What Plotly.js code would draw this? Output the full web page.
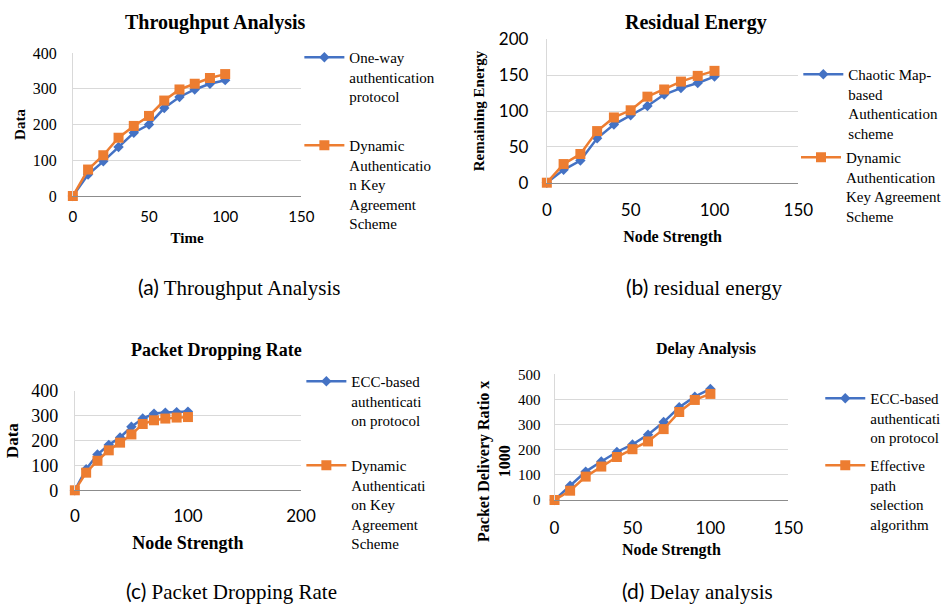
<!DOCTYPE html>
<html>
<head>
<meta charset="utf-8">
<script src="https://cdn.plot.ly/plotly-3.0.1.min.js"></script>
<style>html,body{margin:0;padding:0;background:#fff;}#chart{width:947px;height:605px;}</style>
</head>
<body>
<div id="chart"></div>
<script>
// ---- data ----
const xNodes = [0, 10, 20, 30, 40, 50, 60, 70, 80, 90, 100];

// (a) Throughput Analysis
const thrOneWay = [0, 60, 97, 137, 177, 200, 246, 277, 298, 314, 324];
const thrDynamic = [0, 74, 114, 163, 196, 224, 267, 298, 314, 330, 341];

// (b) Residual Energy
const resChaotic = [0, 18, 31, 62, 81, 94, 107, 123, 132, 139, 148];
const resDynamic = [0, 26, 40, 72, 91, 101, 120, 130, 141, 149, 156];

// (c) Packet Dropping Rate
const pdrEcc = [0, 85, 144, 183, 213, 256, 289, 309, 313, 315, 317];
const pdrDynamic = [0, 71, 119, 161, 192, 225, 267, 282, 289, 293, 295];

// (d) Delay Analysis
const delEcc = [0, 57, 113, 153, 191, 221, 260, 310, 369, 411, 442];
const delEffective = [0, 37, 93, 133, 171, 202, 233, 282, 350, 398, 422];

const names = {
  a1: 'One-way<br>authentication<br>protocol',
  a2: 'Dynamic<br>Authenticatio<br>n Key<br>Agreement<br>Scheme',
  b1: 'Chaotic Map-<br>based<br>Authentication<br>scheme',
  b2: 'Dynamic<br>Authentication<br>Key Agreement<br>Scheme',
  c1: 'ECC-based<br>authenticati<br>on protocol',
  c2: 'Dynamic<br>Authenticati<br>on Key<br>Agreement<br>Scheme',
  d1: 'ECC-based<br>authenticati<br>on protocol',
  d2: 'Effective<br>path<br>selection<br>algorithm'
};

// ---- styling ----
const BLUE = '#4472C4', ORANGE = '#ED7D31';
const SERIF = 'Liberation Serif, Times New Roman, serif';
const SANS = 'Lato, Carlito, Calibri, sans-serif';
const W = 947, H = 605;
const px = v => v / W;
const py = v => 1 - v / H;

function blueTrace(y, name, xa, ya, lg) {
  return {x: xNodes, y: y, name: name, xaxis: xa, yaxis: ya, legend: lg,
    type: 'scatter', mode: 'lines+markers', cliponaxis: false,
    line: {color: BLUE, width: 2.5},
    marker: {symbol: 'diamond', size: 8, color: BLUE}};
}
function orangeTrace(y, name, xa, ya, lg) {
  return {x: xNodes, y: y, name: name, xaxis: xa, yaxis: ya, legend: lg,
    type: 'scatter', mode: 'lines+markers', cliponaxis: false,
    line: {color: ORANGE, width: 2.5},
    marker: {symbol: 'square', size: 10, color: ORANGE}};
}

const data = [
  blueTrace(thrOneWay, names.a1, 'x', 'y', 'legend'),
  orangeTrace(thrDynamic, names.a2, 'x', 'y', 'legend2'),
  blueTrace(resChaotic, names.b1, 'x2', 'y2', 'legend3'),
  orangeTrace(resDynamic, names.b2, 'x2', 'y2', 'legend4'),
  blueTrace(pdrEcc, names.c1, 'x3', 'y3', 'legend5'),
  orangeTrace(pdrDynamic, names.c2, 'x3', 'y3', 'legend6'),
  blueTrace(delEcc, names.d1, 'x4', 'y4', 'legend7'),
  orangeTrace(delEffective, names.d2, 'x4', 'y4', 'legend8')
];

function xAxis(dom, range, dtick, fontSize, title, titleSize, standoff, anchor, tstand) {
  return {domain: dom, range: range, dtick: dtick, tick0: 0, anchor: anchor,
    showgrid: false, zeroline: false, showline: true, linecolor: '#8c8c8c', linewidth: 1,
    ticks: '', ticklabelstandoff: tstand,
    tickfont: {family: SANS, size: fontSize, color: '#000'},
    title: {text: title, font: {family: SERIF, size: titleSize, color: '#000', weight: 'bold'}, standoff: standoff},
    fixedrange: true};
}
function yAxis(dom, range, dtick, fontFamily, fontSize, title, titleSize, standoff, anchor, tstand) {
  return {domain: dom, range: range, dtick: dtick, tick0: 0, anchor: anchor,
    showgrid: true, gridcolor: '#d9d9d9', gridwidth: 1,
    zeroline: false, showline: true, linecolor: '#d9d9d9', linewidth: 1,
    ticks: '', ticklabelstandoff: tstand,
    tickfont: {family: fontFamily, size: fontSize, color: '#000'},
    title: {text: title, font: {family: SERIF, size: titleSize, color: '#000', weight: 'bold'}, standoff: standoff},
    fixedrange: true};
}

function legendAt(x, y, size) {
  return {x: px(x), y: py(y), xanchor: 'left', yanchor: 'top', valign: 'top',
    bgcolor: 'rgba(0,0,0,0)', borderwidth: 0, itemwidth: 40,
    font: {family: SERIF, size: size, color: '#000'}, itemclick: false, itemdoubleclick: false};
}

function ann(text, x, y, size, bold, family, angle) {
  return {text: text, x: px(x), y: py(y), xref: 'paper', yref: 'paper',
    xanchor: 'center', yanchor: 'middle', showarrow: false, textangle: angle || 0,
    font: {family: family || SERIF, size: size, color: '#000', weight: bold ? 'bold' : 'normal'}};
}

const layout = {
  width: W, height: H,
  margin: {l: 0, r: 0, t: 0, b: 0},
  paper_bgcolor: '#fff', plot_bgcolor: '#fff',
  showlegend: true,
  xaxis: xAxis([px(73), px(302)], [0, 150], 50, 15, 'Time', 15, 8, 'y', 7),
  yaxis: yAxis([py(196), py(53)], [0, 400], 100, SERIF, 16, 'Data', 15, 3, 'x', 12),
  xaxis2: xAxis([px(548), px(800)], [0, 150], 50, 17, 'Node Strength', 16, 11, 'y2', 12),
  yaxis2: yAxis([py(182.7), py(39.3)], [0, 200], 50, SANS, 17, 'Remaining Energy', 15, 10, 'x2', 14),
  xaxis3: xAxis([px(75), px(301.7)], [0, 200], 100, 17, 'Node Strength', 18, 11, 'y3', 10),
  yaxis3: yAxis([py(490.3), py(391)], [0, 400], 100, SERIF, 18, 'Data', 17, 8, 'x3', 12),
  xaxis4: xAxis([px(555.7), px(790)], [0, 150], 50, 17, 'Node Strength', 16, 6, 'y4', 13),
  yaxis4: yAxis([py(500), py(374.3)], [0, 500], 100, SERIF, 15, '', 14, 8, 'x4', 10),
  legend: legendAt(300, 41, 15),
  legend2: legendAt(300, 129, 15),
  legend3: legendAt(800, 58, 15),
  legend4: legendAt(798, 141, 15),
  legend5: legendAt(302, 365, 15),
  legend6: legendAt(302, 449, 15),
  legend7: legendAt(822, 382, 15),
  legend8: legendAt(822, 449, 15),
  annotations: [
    ann('Throughput Analysis', 215, 22, 20, true),
    ann('Residual Energy', 697, 22, 20, true),
    ann('Packet Dropping Rate', 217, 350, 18, true),
    ann('Delay Analysis', 707, 349, 16, true),
    ann('Packet Delivery Ratio x<br>1000', 495, 461, 16, true, SERIF, -90),
    ann('<span style="font-family:Lato">(a)</span> Throughput Analysis', 240, 287, 21, false),
    ann('<span style="font-family:Lato">(b)</span> residual energy', 706, 287, 21, false),
    ann('<span style="font-family:Lato">(c)</span> Packet Dropping Rate', 232, 591, 21, false),
    ann('<span style="font-family:Lato">(d)</span> Delay analysis', 699, 591, 21, false)
  ]
};

Plotly.newPlot('chart', data, layout, {staticPlot: true, displayModeBar: false});
</script>
</body>
</html>
